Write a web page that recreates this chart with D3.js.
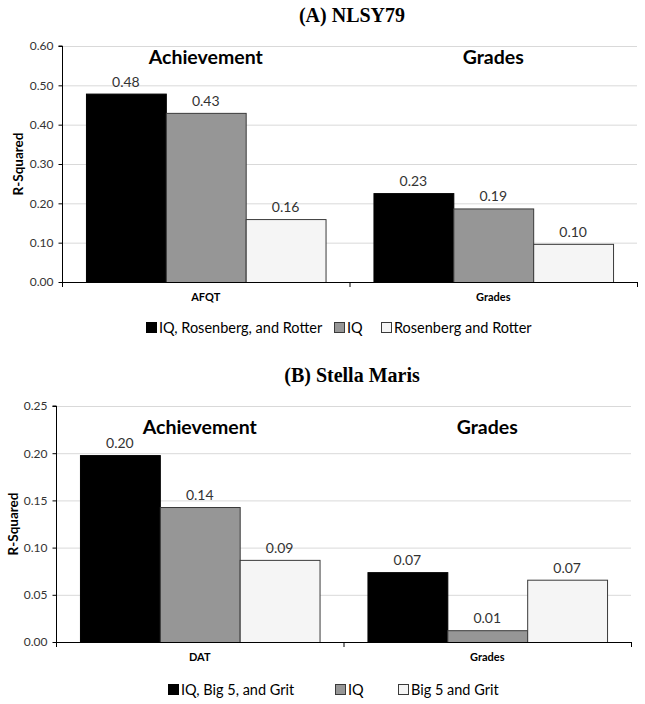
<!DOCTYPE html>
<html><head><meta charset="utf-8">
<script src="https://cdn.jsdelivr.net/npm/d3@7"></script>
<style>body{margin:0;background:#fff}svg{display:block}</style>
</head><body>
<svg id="c" width="645" height="704"></svg>
<script>
// ---- Data ----
const categoriesA = ["AFQT", "Grades"];
const headersA = ["Achievement", "Grades"];
const seriesNamesA = ["IQ, Rosenberg, and Rotter", "IQ", "Rosenberg and Rotter"];
const valuesA = [[0.479, 0.430, 0.160], [0.226, 0.187, 0.097]];
const labelsA = [["0.48", "0.43", "0.16"], ["0.23", "0.19", "0.10"]];
const ticksA = [0, 0.1, 0.2, 0.3, 0.4, 0.5, 0.6];

const categoriesB = ["DAT", "Grades"];
const headersB = ["Achievement", "Grades"];
const seriesNamesB = ["IQ, Big 5, and Grit", "IQ", "Big 5 and Grit"];
const valuesB = [[0.198, 0.143, 0.087], [0.074, 0.0125, 0.066]];
const labelsB = [["0.20", "0.14", "0.09"], ["0.07", "0.01", "0.07"]];
const ticksB = [0, 0.05, 0.1, 0.15, 0.2, 0.25];

const fills = ["#000000", "#969696", "#f5f5f5"];
const strokes = ["#000000", "#3a3a3a", "#3a3a3a"];
const SANS = "Lato, 'Open Sans', sans-serif";

const svg = d3.select("#c");

function panel(o) {
  const g = svg.append("g");
  const x = d3.scaleBand().domain(o.categories).range([o.left, o.right]).paddingInner(0).paddingOuter(0);
  const xs = d3.scaleBand().domain(d3.range(3)).range([0, x.bandwidth()]).paddingInner(0).paddingOuter(0.3);
  const y = d3.scaleLinear().domain([0, o.max]).range([o.bottom, o.top]);

  // title
  g.append("text").attr("x", o.titleX).attr("y", o.titleY).attr("text-anchor", "middle")
    .attr("font-family", "'Liberation Serif', 'Times New Roman', serif").attr("font-weight", "bold")
    .attr("font-size", 20).attr("fill", "#000").text(o.title);

  // grid
  g.append("g").selectAll("line").data(o.ticks.slice(1)).join("line")
    .attr("x1", o.left).attr("x2", o.right).attr("y1", d => y(d) + 0.5).attr("y2", d => y(d) + 0.5)
    .attr("stroke", "#d9d9d9").attr("stroke-width", 1);

  // y axis
  const ya = g.append("g").attr("transform", `translate(${o.left + 0.5},0)`)
    .call(d3.axisLeft(y).tickValues(o.ticks).tickFormat(d3.format(".2f")).tickSize(4).tickPadding(5));
  ya.select(".domain").attr("stroke", "#000").attr("d", `M-4,${o.top}H0V${o.bottom + 5}`);
  ya.selectAll(".tick line").attr("stroke", "#000");
  ya.selectAll("text").attr("font-family", SANS).attr("font-size", 12).attr("fill", "#333");

  // bars
  o.categories.forEach((c, ci) => {
    const bg = g.append("g").attr("transform", `translate(${x(c)},0)`);
    bg.selectAll("rect").data(o.values[ci]).join("rect")
      .attr("x", (d, i) => xs(i) + 0.5).attr("width", xs.bandwidth())
      .attr("y", d => y(d) + 0.5).attr("height", d => y(0) - y(d))
      .attr("fill", (d, i) => fills[i]).attr("stroke", (d, i) => strokes[i]).attr("stroke-width", 1);
    bg.selectAll("text.v").data(o.values[ci]).join("text").attr("class", "v")
      .attr("x", (d, i) => xs(i) + xs.bandwidth() / 2).attr("y", d => y(d) - 7)
      .attr("text-anchor", "middle").attr("font-family", SANS).attr("font-size", 14).attr("fill", "#333")
      .text((d, i) => o.labels[ci][i]);
    // header
    g.append("text").attr("x", x(c) + x.bandwidth() / 2).attr("y", o.headerY).attr("text-anchor", "middle")
      .attr("font-family", SANS).attr("font-weight", "bold").attr("font-size", 19.5).attr("fill", "#000")
      .text(o.headers[ci]);
    // category label
    g.append("text").attr("x", x(c) + x.bandwidth() / 2).attr("y", o.bottom + 19).attr("text-anchor", "middle")
      .attr("font-family", SANS).attr("font-weight", "bold").attr("font-size", 11).attr("fill", "#000")
      .text(c);
  });

  // x axis
  const xa = g.append("g").attr("transform", `translate(0,${o.bottom + 0.5})`)
    .call(d3.axisBottom(x).tickValues([]).tickSizeOuter(0));
  xa.select(".domain").attr("stroke", "#000").attr("d", `M${o.left},0H${o.right}`);
  g.selectAll("line.xt").data(o.categories).join("line").attr("class", "xt")
    .attr("x1", c => x(c) + x.bandwidth() + 0.5).attr("x2", c => x(c) + x.bandwidth() + 0.5)
    .attr("y1", o.bottom).attr("y2", o.bottom + 5).attr("stroke", "#000");

  // y label
  g.append("text").attr("transform", `translate(${o.ylabX},${(o.top + o.bottom) / 2}) rotate(-90)`)
    .attr("text-anchor", "middle").attr("font-family", SANS).attr("font-weight", "bold")
    .attr("font-size", 13.5).attr("fill", "#000").text("R-Squared");

  // legend
  o.seriesNames.forEach((s, i) => {
    const lx = o.legendX[i];
    g.append("rect").attr("x", lx + 0.5).attr("y", o.legendY - 5.5).attr("width", 10).attr("height", 10)
      .attr("fill", fills[i]).attr("stroke", strokes[i]);
    g.append("text").attr("x", lx + 13).attr("y", o.legendY + 5)
      .attr("font-family", SANS).attr("font-size", 14.5).attr("fill", "#000").text(s);
  });
}

panel({
  title: "(A) NLSY79", titleX: 352, titleY: 22,
  categories: categoriesA, headers: headersA, seriesNames: seriesNamesA,
  values: valuesA, labels: labelsA, ticks: ticksA, max: 0.6,
  left: 62, right: 637, top: 46, bottom: 282, headerY: 64, ylabX: 23,
  legendX: [146, 334, 381], legendY: 328
});
panel({
  title: "(B) Stella Maris", titleX: 352, titleY: 382,
  categories: categoriesB, headers: headersB, seriesNames: seriesNamesB,
  values: valuesB, labels: labelsB, ticks: ticksB, max: 0.25,
  left: 56, right: 631, top: 406, bottom: 642, headerY: 434, ylabX: 18,
  legendX: [168, 335, 398], legendY: 690
});
</script>
</body></html>
